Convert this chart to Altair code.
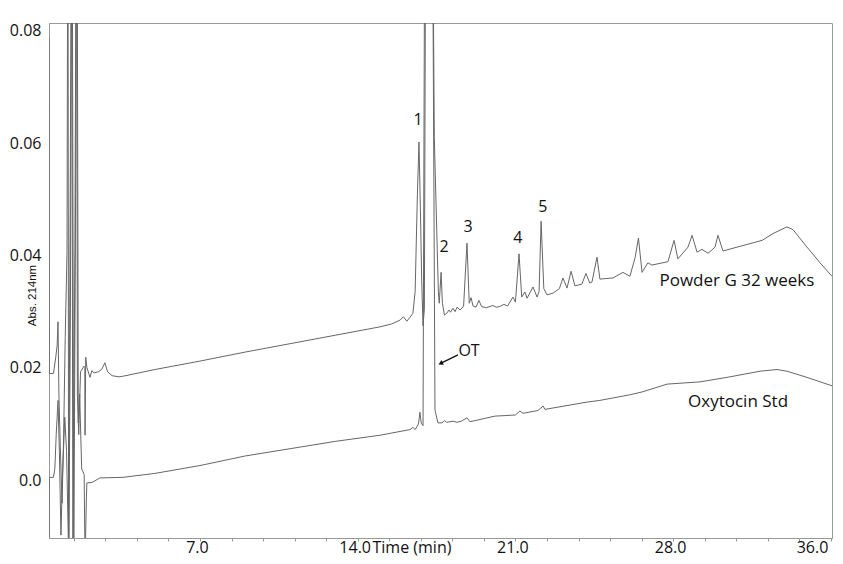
import altair as alt
import pandas as pd

# ---------------- data ----------------
POWDER_T = [0.30, 0.31, 0.50, 0.60, 0.66, 0.70, 0.74, 0.80, 0.88, 0.95, 1.02, 1.10, 1.14, 1.17, 1.22,
            1.28, 1.32, 1.36, 1.45, 1.52, 1.56, 1.62, 1.70, 1.85, 1.89, 1.90, 1.93, 1.98, 2.12, 2.20,
            2.30, 2.50, 2.65, 2.78, 2.90, 3.10, 3.40, 3.58, 5.00, 7.00, 9.00, 11.00, 13.00, 14.99,
            15.50, 15.88, 16.03, 16.18, 16.32, 16.45, 16.55, 16.65, 16.72, 16.78, 16.84, 16.90, 16.96,
            17.03, 17.30, 17.40, 17.50, 17.58, 17.62, 17.70, 17.76, 17.85, 17.95, 18.05, 18.12, 18.23,
            18.32, 18.41, 18.55, 18.70, 18.85, 18.95, 19.03, 19.12, 19.25, 19.38, 19.50, 19.70, 20.00,
            20.15, 20.30, 20.49, 20.65, 20.89, 21.00, 21.16, 21.28, 21.42, 21.52, 21.78, 21.96, 22.05,
            22.14, 22.26, 22.40, 22.67, 22.95, 23.11, 23.29, 23.47, 23.64, 23.95, 24.13, 24.30, 24.40,
            24.62, 24.75, 25.33, 25.77, 26.08, 26.31, 26.46, 26.62, 26.88, 27.06, 27.77, 28.04, 28.21,
            28.66, 28.84, 29.06, 29.28, 29.55, 29.86, 29.99, 30.21, 30.66, 31.95, 32.43, 33.05, 33.32,
            33.94, 34.52, 35.05]
POWDER_V = [0.0788, 0.0190, 0.0190, 0.0219, 0.0239, 0.0282, 0.0153, 0.0061, -0.0041, 0.0081, 0.0254,
            0.0407, 0.1200, -0.0150, 0.0305, 0.0865, 0.0783, -0.0150, 0.0407, 0.1200, 0.0153, 0.0081,
            0.0193, 0.0203, 0.0201, 0.0080, 0.0219, 0.0201, 0.0183, 0.0195, 0.0191, 0.0193, 0.0198,
            0.0209, 0.0193, 0.0186, 0.0184, 0.0185, 0.0197, 0.0212, 0.0228, 0.0243, 0.0258, 0.0273,
            0.0278, 0.0285, 0.0291, 0.0283, 0.0290, 0.0297, 0.0336, 0.0509, 0.0602, 0.0488, 0.0356,
            0.0275, 0.0305, 0.1200, 0.1200, 0.0610, 0.0458, 0.0336, 0.0315, 0.0370, 0.0315, 0.0294,
            0.0297, 0.0303, 0.0299, 0.0306, 0.0300, 0.0308, 0.0303, 0.0310, 0.0422, 0.0315, 0.0325,
            0.0310, 0.0308, 0.0320, 0.0309, 0.0307, 0.0311, 0.0308, 0.0309, 0.0313, 0.0310, 0.0326,
            0.0317, 0.0403, 0.0326, 0.0335, 0.0324, 0.0344, 0.0326, 0.0336, 0.0461, 0.0341, 0.0330,
            0.0333, 0.0341, 0.0360, 0.0342, 0.0372, 0.0346, 0.0349, 0.0368, 0.0351, 0.0353, 0.0397,
            0.0358, 0.0360, 0.0370, 0.0363, 0.0396, 0.0431, 0.0370, 0.0387, 0.0383, 0.0389, 0.0427,
            0.0394, 0.0415, 0.0436, 0.0406, 0.0411, 0.0404, 0.0415, 0.0436, 0.0408, 0.0413, 0.0427,
            0.0439, 0.0451, 0.0446, 0.0415, 0.0387, 0.0363]

STD_T = [0.30, 0.31, 0.50, 0.56, 0.62, 0.70, 0.76, 0.83, 0.90, 1.00, 1.08, 1.18, 1.25, 1.32, 1.40,
         1.48, 1.54, 1.60, 1.66, 1.75, 1.86, 1.90, 1.96, 1.98, 2.21, 2.56, 3.58, 5.00, 7.00, 9.00,
         11.00, 13.00, 14.99, 16.32, 16.45, 16.55, 16.70, 16.76, 16.82, 16.90, 16.99, 17.30, 17.43,
         17.56, 17.74, 17.85, 17.95, 18.23, 18.41, 18.60, 18.85, 18.98, 20.09, 21.00, 21.20, 21.34,
         22.00, 22.23, 22.31, 24.18, 24.75, 26.08, 26.62, 27.73, 29.19, 30.39, 31.86, 32.61, 33.05,
         33.94, 35.05]
STD_V = [-0.0150, 0.0005, 0.0005, 0.0021, 0.0081, 0.0142, 0.0051, -0.0098, 0.0010, 0.0112, 0.0051,
         -0.0150, 0.0305, 0.1200, -0.0150, 0.0509, 0.1200, 0.0102, 0.0153, 0.0020, 0.0010, -0.0150,
         -0.0031, -0.0005, -0.0004, 0.0004, 0.0005, 0.0012, 0.0026, 0.0043, 0.0056, 0.0069, 0.0080,
         0.0090, 0.0094, 0.0090, 0.0100, 0.0121, 0.0102, 0.0097, 0.1200, 0.1200, 0.0125, 0.0102,
         0.0102, 0.0106, 0.0103, 0.0105, 0.0103, 0.0105, 0.0111, 0.0104, 0.0114, 0.0116, 0.0123,
         0.0119, 0.0124, 0.0132, 0.0126, 0.0139, 0.0142, 0.0152, 0.0157, 0.0171, 0.0175, 0.0183,
         0.0194, 0.0197, 0.0194, 0.0183, 0.0168]

PEAK_LABELS = ["1", "2", "3", "4", "5"]
PEAK_LABEL_T = [16.68, 17.83, 18.90, 21.11, 22.22]
PEAK_LABEL_V = [0.0641, 0.0415, 0.0451, 0.0432, 0.0486]

TRACE_NAMES = ["Powder G 32 weeks", "Oxytocin Std"]
TRACE_LABEL_T = [30.83, 30.88]
TRACE_LABEL_V = [0.0354, 0.0139]

OT_LABEL = ["OT"]
OT_LABEL_T = [18.94]
OT_LABEL_V = [0.0230]
OT_ARROW_T = [18.45, 17.68]
OT_ARROW_V = [0.0223, 0.0208]

X_DOMAIN = [0.3, 35.05]
Y_DOMAIN = [-0.0103, 0.0814]
X_TICKS = [1.4, 2.8, 4.2, 5.6, 7.0, 8.4, 9.8, 11.2, 12.6, 14.0, 15.4, 16.8, 18.2, 19.6, 21.0,
           22.4, 23.8, 25.2, 26.6, 28.0, 29.4, 30.8, 32.2, 33.6, 35.0]
X_LABEL_VALUES = [7.0, 14.0, 21.0, 28.0, 35.0]
X_LABEL_TEXT = ["7.0", "14.0", "21.0", "28.0", "36.0"]
Y_TICKS = [0.0, 0.02, 0.04, 0.06, 0.08]
Y_LABEL_TEXT = ["0.0", "0.02", "0.04", "0.06", "0.08"]

# ---------------- tables ----------------
rows = []
for name, ts, vs in [(TRACE_NAMES[0], POWDER_T, POWDER_V), (TRACE_NAMES[1], STD_T, STD_V)]:
    for i, (t, v) in enumerate(zip(ts, vs)):
        rows.append({"series": name, "i": i, "t": t, "v": v})
traces = pd.DataFrame(rows)

peaks = pd.DataFrame({"label": PEAK_LABELS, "t": PEAK_LABEL_T, "v": PEAK_LABEL_V})
names = pd.DataFrame({"label": TRACE_NAMES, "t": TRACE_LABEL_T, "v": TRACE_LABEL_V})
ot = pd.DataFrame({"label": OT_LABEL, "t": OT_LABEL_T, "v": OT_LABEL_V})
arrow = pd.DataFrame({"i": [0, 1], "t": OT_ARROW_T, "v": OT_ARROW_V})
arrow_head = arrow.iloc[[1]]

x_expr = " : ".join(f"abs(datum.value - {v}) < 0.01 ? '{s}'" for v, s in zip(X_LABEL_VALUES, X_LABEL_TEXT)) + " : ''"
y_expr = " : ".join(f"abs(datum.value - {v}) < 0.0001 ? '{s}'" for v, s in zip(Y_TICKS, Y_LABEL_TEXT)) + " : ''"

xs = alt.Scale(domain=X_DOMAIN, nice=False, zero=False)
ys = alt.Scale(domain=Y_DOMAIN, nice=False, zero=False)

x_axis = alt.Axis(values=X_TICKS, labelExpr=x_expr, title="Time (min)", titleX=323, titleY=14,
                  titleAlign="left", titleBaseline="alphabetic", titleFont="Open Sans",
                  titleFontSize=16, titleFontWeight="normal", titleColor="#111",
                  labelFont="Open Sans", labelFontSize=16, labelColor="#111",
                  labelBaseline="alphabetic", labelPadding=11, labelOffset=-3, tickSize=3,
                  tickColor="#999", domainColor="#999", grid=False, labelFlush=5,
                  labelOverlap=False)
y_axis = alt.Axis(values=Y_TICKS, labelExpr=y_expr, title="Abs. 214nm", titleX=-17, titleY=272,
                  titleAngle=270, titleAlign="center", titleBaseline="middle",
                  titleFont="Liberation Sans", titleFontSize=11.5, titleFontWeight="normal",
                  titleColor="#111", labelFont="Open Sans", labelFontSize=16, labelColor="#111",
                  ticks=False, labelPadding=8, domainColor="#999", grid=False, labelOverlap=False)

lines = alt.Chart(traces).mark_line(clip=True, strokeWidth=1, color="#666").encode(
    detail="series:N",
    order="i:Q",
)

def txt(df, size):
    return alt.Chart(df).mark_text(font="Open Sans", fontSize=size, color="#111", align="center",
                                   baseline="middle").encode(text="label:N")

arrow_line = alt.Chart(arrow).mark_line(color="#111", strokeWidth=1.2).encode(order="i:Q")
arrow_tip = alt.Chart(arrow_head).mark_point(shape="triangle-up", angle=243, size=28, filled=True,
                                             color="#111", opacity=1)

chart = alt.layer(lines, txt(peaks, 16), txt(names, 17), txt(ot, 16), arrow_line,
                  arrow_tip).encode(
    x=alt.X("t:Q", scale=xs, axis=x_axis),
    y=alt.Y("v:Q", scale=ys, axis=y_axis),
).properties(
    width=783, height=515,
    padding={"left": 41, "top": 15, "right": 3, "bottom": 18},
    autosize=alt.AutoSizeParams(type="none"),
    background="white",
).configure_view(stroke="#999", strokeWidth=1)

chart.save("out.html", embed_options={"renderer": "svg", "actions": False})
